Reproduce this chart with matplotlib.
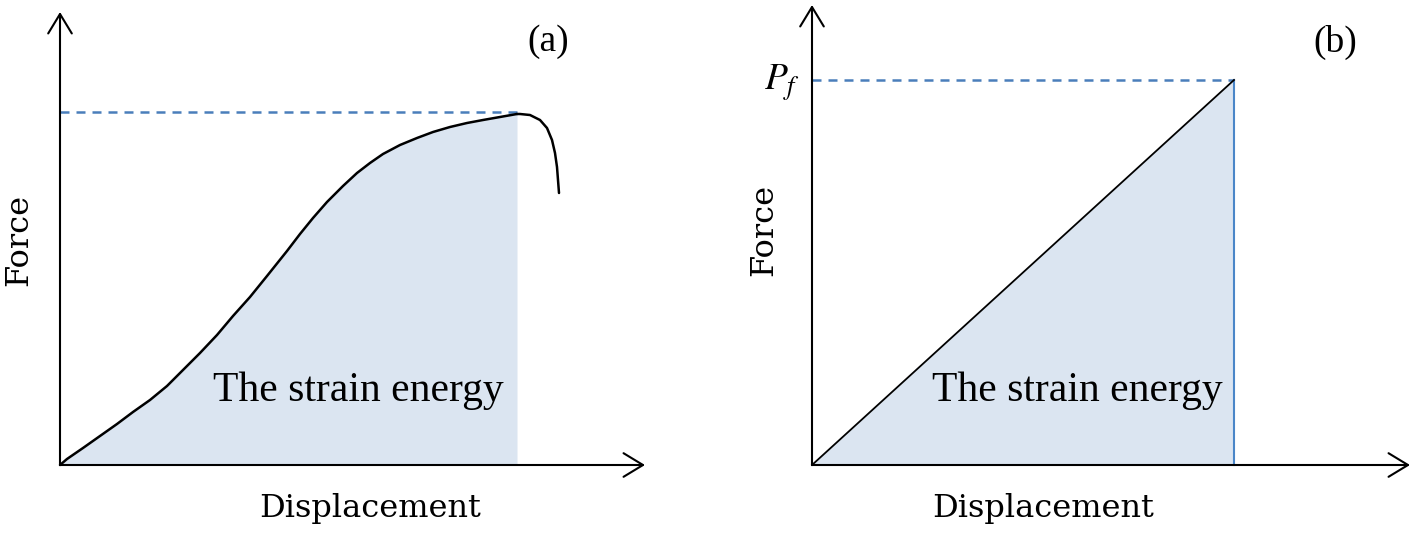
import numpy as np
import matplotlib as mpl
mpl.use('Agg')
import matplotlib.pyplot as plt

disp_a = [0, 7, 23, 40, 57, 73, 90, 107, 123, 140, 157, 173, 190, 207,
          227, 240, 253, 267, 283, 297, 310, 323, 340, 357, 373, 390, 407,
          423, 440, 457]
force_a = [0, 6, 17, 29, 41, 53, 65, 79, 95, 112, 130, 149, 168, 189,
           214, 231, 247, 263, 279, 292, 302, 311, 320, 327, 333, 338, 342,
           345, 348, 351]
# after the peak the curve drops off
disp_a_post = [457, 460, 470, 480, 487, 492, 495, 497, 498, 499]
force_a_post = [351, 351, 350, 345, 337, 325, 312, 298, 285, 272]
peak_a = 353

# panel (b): linear up to failure load P_f
disp_b = [0, 422]
force_b = [0, 385]

label_energy = "The strain energy"
label_x = "Displacement"
label_y = "Force"

fill_col = "#dbe5f1"
dash_col = "#4a7ebb"
vline_col = "#4a86c8"

plt.rcParams['mathtext.fontset'] = 'stix'

fig = plt.figure(figsize=(14.18, 5.35), dpi=100)

def setup(ax, x_off, x_tip, y_tip):
    ax.set_xlim(-x_off, 709 - x_off)
    ax.set_ylim(-70, 465)
    ax.axis('off')
    arrow = dict(arrowstyle='->,head_length=1.4,head_width=0.85', lw=1.5,
                 color='black', shrinkA=0, shrinkB=0)
    ax.annotate('', xy=(x_tip, 0), xytext=(0, 0), arrowprops=arrow)
    ax.annotate('', xy=(0, y_tip), xytext=(0, 0), arrowprops=arrow)

# ---- panel (a)
ax = fig.add_axes([0, 0, 709 / 1418, 1])
setup(ax, 60, 585, 453)
ax.fill_between(disp_a, force_a, 0, color=fill_col, lw=0, zorder=1)
ax.plot(disp_a, force_a, color='black', lw=1.8, zorder=3,
        solid_joinstyle='round', solid_capstyle='round')
ax.plot(disp_a_post, force_a_post, color='black', lw=1.8, zorder=3,
        solid_joinstyle='round', solid_capstyle='round')
ax.plot([0, disp_a[-1]], [peak_a, peak_a], color=dash_col, lw=1.8,
        ls=(0, (3.6, 2.8)), zorder=2)
ax.text(153, 64, label_energy, family='Liberation Serif', fontsize=30,
        ha='left', va='baseline')
ax.text(310, -52, label_x, family='DejaVu Serif', fontsize=23,
        ha='center', va='baseline')
ax.text(-41, 225, label_y, family='DejaVu Serif', fontsize=23,
        ha='center', va='center', rotation=90)
ax.text(488, 423, "(a)", family='Liberation Serif', fontsize=27,
        ha='center', va='center')

# ---- panel (b)
ax = fig.add_axes([709 / 1418, 0, 709 / 1418, 1])
setup(ax, 103, 598, 460)
ax.fill_between(disp_b, force_b, 0, color=fill_col, lw=0, zorder=1)
ax.plot(disp_b, force_b, color='black', lw=1.3, zorder=3)
ax.plot([disp_b[-1], disp_b[-1]], [0, force_b[-1]], color=vline_col, lw=1.5,
        zorder=2)
ax.plot([0, disp_b[-1]], [force_b[-1], force_b[-1]], color=dash_col, lw=1.8,
        ls=(0, (3.6, 2.8)), zorder=2)
ax.text(-12, force_b[-1] - 3, r"$P_f$", fontsize=27, ha='right', va='center')
ax.text(120, 64, label_energy, family='Liberation Serif', fontsize=30,
        ha='left', va='baseline')
ax.text(231, -52, label_x, family='DejaVu Serif', fontsize=23,
        ha='center', va='baseline')
ax.text(-48, 235, label_y, family='DejaVu Serif', fontsize=23,
        ha='center', va='center', rotation=90)
ax.text(523, 423, "(b)", family='Liberation Serif', fontsize=27,
        ha='center', va='center')

fig.savefig('out.png', dpi=100)
